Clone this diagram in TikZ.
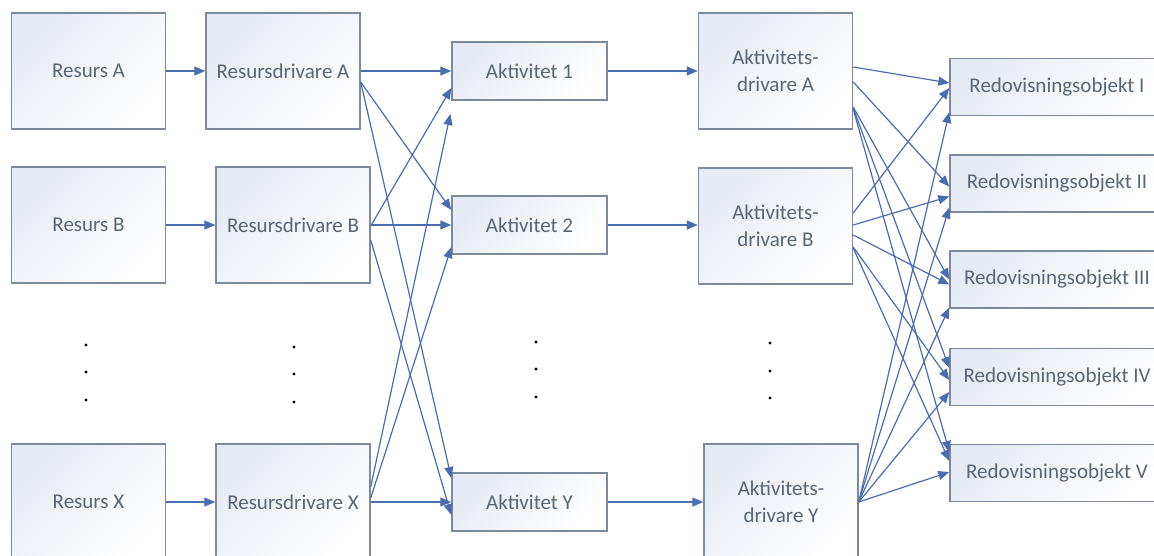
\documentclass[tikz,border=0pt]{standalone}
\usepackage{fontspec}
\setmainfont{Carlito}
\usetikzlibrary{calc,arrows.meta}
\definecolor{boxline}{HTML}{7D899C}
\definecolor{boxfill}{HTML}{E6EAF4}
\definecolor{txtcol}{HTML}{5A6575}
\definecolor{arrcol}{HTML}{4A6DB0}
\begin{document}
\begin{tikzpicture}[x=1pt,y=-1pt,
  box/.style={draw=boxline, line width=1.4pt, top color=boxfill, bottom color=white, shading angle=45,
    minimum width=154pt, minimum height=116pt, inner sep=0pt, text=txtcol,
    font=\fontsize{21}{27}\selectfont, align=center},
  smallbox/.style={box, minimum width=155pt, minimum height=58pt},
  robox/.style={box, minimum width=214pt, minimum height=57pt},
  conn/.style={draw=arrcol, line width=1.2pt, -{Triangle[length=11pt,width=9pt]}},
  dotmark/.style={fill=black, draw=none, circle, inner sep=0pt, minimum size=3.4pt}
]
\useasboundingbox (0,0) rectangle (1154,555);
\clip (0,0) rectangle (1154,555);

% column 1
\node[box] (ra) at (88.5,71) {Resurs A};
\node[box] (rb) at (88.5,225) {Resurs B};
\node[box] (rx) at (88.5,502) {Resurs X};
% column 2
\node[box] (rda) at (283,71) {Resursdrivare A};
\node[box] (rdb) at (293,225) {Resursdrivare B};
\node[box] (rdx) at (293,502) {Resursdrivare X};
% column 3
\node[smallbox] (a1) at (529.5,71) {Aktivitet 1};
\node[smallbox] (a2) at (529.5,225) {Aktivitet 2};
\node[smallbox] (ay) at (529.5,502) {Aktivitet Y};
% column 4
\node[box] (ada) at (775.5,71) {Aktivitets-\\drivare A};
\node[box] (adb) at (775.5,226) {Aktivitets-\\drivare B};
\node[box] (ady) at (781,502) {Aktivitets-\\drivare Y};
% column 5
\node[robox] (ro1) at (1057,87) {Redovisningsobjekt I};
\node[robox] (ro2) at (1057,183.5) {Redovisningsobjekt II};
\node[robox] (ro3) at (1057,279.5) {Redovisningsobjekt III};
\node[robox] (ro4) at (1057,377) {Redovisningsobjekt IV};
\node[robox] (ro5) at (1057,473) {Redovisningsobjekt V};

% dots
\foreach \x/\y [count=\i] in {86/345,86/372,86/400,294/347,294/374,294/402,536/342,536/369,536/397,770/343,770/371,770/398}
  \node[dotmark] (d\i) at (\x,\y) {};

% resources to drivers
\draw[conn] (ra.east) -- (rda.west);
\draw[conn] (rb.east) -- (rdb.west);
\draw[conn] (rx.east) -- (rdx.west);

% resource drivers to activities
\draw[conn] (rda.east) -- (a1.west);
\draw[conn] ($(rda.east)+(0,11)$) -- ($(a2.west)+(0,-15)$);
\draw[conn] ($(rda.east)+(0,11)$) -- ($(ay.west)+(0,-24)$);
\draw[conn] ($(rdb.east)+(0,1)$) -- ($(a1.west)+(0,17)$);
\draw[conn] (rdb.east) -- (a2.west);
\draw[conn] ($(rdb.east)+(0,15)$) -- ($(ay.west)+(0,13)$);
\draw[conn] ($(rdx.east)+(0,-15)$) -- ($(a1.west)+(-1,43)$);
\draw[conn] ($(rdx.east)+(0,-4)$) -- ($(a2.west)+(0,22)$);
\draw[conn] (rdx.east) -- (ay.west);

% activities to activity drivers
\draw[conn] (a1.east) -- (a1.east -| ada.west);
\draw[conn] (a2.east) -- (a2.east -| adb.west);
\draw[conn] (ay.east) -- (ay.east -| ady.west);

% activity drivers to cost objects
\draw[conn] ($(ada.east)+(0,-4)$) -- ($(ro1.west)+(0,-4)$);
\draw[conn] ($(ada.east)+(0,11)$) -- ($(ro2.west)+(0,3)$);
\draw[conn] ($(ada.east)+(0,36)$) -- ($(ro3.west)+(0,0)$);
\draw[conn] ($(ada.east)+(0,37)$) -- ($(ro4.west)+(0,-9)$);
\draw[conn] ($(ada.east)+(0,38)$) -- ($(ro5.west)+(0,-21)$);

\draw[conn] ($(adb.east)+(0,-13)$) -- ($(ro1.west)+(0,1)$);
\draw[conn] ($(adb.east)+(0,-1)$) -- ($(ro2.west)+(0,13)$);
\draw[conn] ($(adb.east)+(0,9)$) -- ($(ro3.west)+(0,5)$);
\draw[conn] ($(adb.east)+(0,21)$) -- ($(ro4.west)+(0,3)$);
\draw[conn] ($(adb.east)+(0,22)$) -- ($(ro5.west)+(0,-12)$);

\draw[conn] (ady.east) -- ($(ro1.west)+(0,25)$);
\draw[conn] (ady.east) -- ($(ro2.west)+(0,24)$);
\draw[conn] (ady.east) -- ($(ro3.west)+(0,28)$);
\draw[conn] (ady.east) -- ($(ro4.west)+(0,15)$);
\draw[conn] (ady.east) -- ($(ro5.west)+(0,-1)$);
\end{tikzpicture}
\end{document}
